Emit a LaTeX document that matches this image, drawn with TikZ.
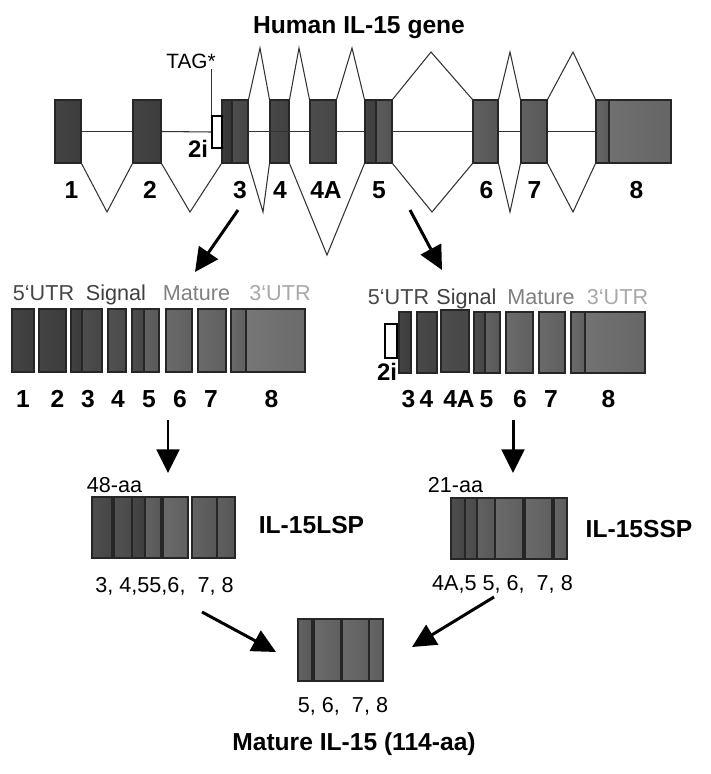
\documentclass[tikz,border=0pt]{standalone}
\usepackage{fontspec}
\setmainfont{Liberation Sans}
\usetikzlibrary{arrows.meta,fit}
\definecolor{utrdark}{gray}{0.28}
\definecolor{sigdark}{gray}{0.25}
\definecolor{matgray}{gray}{0.50}
\definecolor{utrlight}{gray}{0.66}

\begin{document}
\begin{tikzpicture}[x=0.02cm, y=-0.02cm,
    every node/.style={font=\fontsize{12.5}{14}\selectfont, inner sep=0pt},
    num/.style={font=\fontsize{14}{16}\selectfont\bfseries, anchor=base},
    lab/.style={font=\fontsize{12.3}{14}\selectfont, anchor=base},
    exon/.style={draw=black!85, line width=0.6pt, inner sep=0pt,
                 left color=white!#1!black!80!black, middle color=white!#1!black!88!white,
                 right color=white!#1!black!72!black},
    intr/.style={draw=black, fill=white, line width=0.6pt, inner sep=0pt},
    splice/.style={draw=black!80, line width=0.6pt},
    bigarr/.style={-{Triangle[length=13.5pt, width=13pt]}, line width=1.7pt}
  ]
  \useasboundingbox (0,0) rectangle (710,774);

  % ---- Gene title ----
  \node[num] (title) at (359,33) {Human IL-15 gene};

  % ---- Gene exons ----
  \foreach \nm/\xa/\xb/\sh in {e1/55/81/33, e2/133/161/33, e3a/222/232/29,
      e3b/232/248/38, e4/270/289/35, e4A/310/336/38, e5a/365/376/34,
      e5b/376/392/45, e6/473/498/47, e7/521/547/48, e8a/596/609/50, e8b/609/671/55} {
    \node[exon=\sh, fit={(\xa,100) (\xb,163)}] (\nm) {};
  }
  \node[intr, fit={(212,116) (222,148)}] (i2) {};

  % ---- Introns ----
  \draw[splice] (e1.east) -- (e2.west);
  \draw[splice] (e2.east) -- (i2.west);
  \draw[splice] (e3b.east) -- (e4A.west);
  \draw[splice] (e4A.east) -- (e5a.west);
  \draw[splice] (e5b.east) -- (e6.west);
  \draw[splice] (e6.east) -- (e7.west);
  \draw[splice] (e7.east) -- (e8a.west);

  % ---- Splicing below ----
  \foreach \a/\b/\x/\y in {e1/e2/107/212, e2/e3a/190/212, e3b/e4/263/212,
      e4/e5a/327/255, e5b/e6/432/212, e6/e7/510/212, e7/e8a/573/212} {
    \draw[splice] (\a.south east) -- (\x,\y) -- (\b.south west);
  }
  % ---- Splicing above ----
  \foreach \a/\b/\x/\y in {e3b/e4/260/48, e4/e4A/299/48, e4A/e5a/352/48,
      e5b/e6/431/52, e6/e7/510/52, e7/e8a/573/52} {
    \draw[splice] (\a.north east) -- (\x,\y) -- (\b.north west);
  }

  % ---- TAG and 2i ----
  \node[font=\fontsize{11.8}{14}\selectfont, anchor=base] (tag) at (191,68) {TAG*};
  \draw[splice] (i2.north west) -- (i2.north west |- tag.south);
  \node[num, font=\fontsize{13.6}{16}\selectfont\bfseries] (g2i) at (198,157) {2i};

  % ---- Gene exon numbers ----
  \foreach \x/\t in {71.5/1, 150/2, 240/3, 280/4, 326/4A, 379/5, 486.5/6, 534.5/7, 636.5/8} {
    \node[num] (g\t) at (\x,198) {\t};
  }

  % ---- Long transcript ----
  \node[lab, text=utrdark] (lutr5) at (43.5,300) {5‘UTR};
  \node[lab, text=sigdark] (lsig) at (116,300) {Signal};
  \node[lab, text=matgray] (lmat) at (196.5,300) {Mature};
  \node[lab, text=utrlight] (lutr3) at (280,300) {3‘UTR};
  \foreach \nm/\xa/\xb/\sh in {t1/12/34/33, t2/39/66/33, t3a/71/82/32, t3b/82/102/38,
      t4/108/126/40, t5a/132/144/38, t5b/144/159/48, t6/166/192/52, t7/198/226/52,
      t8a/231/246/52, t8b/246/305/58} {
    \node[exon=\sh, fit={(\xa,309) (\xb,372)}] (\nm) {};
  }
  \foreach \x/\t in {23/1, 57.5/2, 88/3, 118/4, 149/5, 180/6, 211/7, 271.5/8} {
    \node[num] (l\t) at (\x,407) {\t};
  }

  % ---- Short transcript ----
  \node[lab, text=utrdark] (sutr5) at (398.5,304) {5‘UTR};
  \node[lab, text=sigdark] (ssig) at (466.5,304) {Signal};
  \node[lab, text=matgray] (smat) at (541,304) {Mature};
  \node[lab, text=utrlight] (sutr3) at (617.5,304) {3‘UTR};
  \node[intr, fit={(385,324) (397,358)}] (s2i) {};
  \node[num, font=\fontsize{13.6}{16}\selectfont\bfseries] (l2i) at (387,380) {2i};
  \foreach \nm/\xa/\xb/\sh in {s3/399/411/33, s4/417/437/36, s5a/474/485/38,
      s5b/485/500/48, s6/506/533/52, s7/539/565/52, s8a/571/585/52, s8b/585/645/56} {
    \node[exon=\sh, fit={(\xa,312) (\xb,373)}] (\nm) {};
  }
  \node[exon=38, fit={(441,310) (469,372)}] (s4A) {};
  \foreach \x/\t in {408.5/3, 426.5/4, 459/4A, 486.5/5, 520/6, 551/7, 608.5/8} {
    \node[num] (r\t) at (\x,407) {\t};
  }

  % ---- Precursor proteins ----
  \node[lab] (aa48) at (114.5,492) {48-aa};
  \foreach \nm/\xa/\xb/\sh in {p1/92/112/38, p2/114/132/40, p3/132/145/34,
      p4/145/161/48, p5/163/188/52, p6/192/217/48, p7/217/235/47} {
    \node[exon=\sh, fit={(\xa,497) (\xb,558)}] (\nm) {};
  }
  \node[num] (lsp) at (311.5,533) {IL-15LSP};
  \node[lab] (lspnum) at (164.5,592) {3, 4,55,6,\ \ 7, 8};

  \node[lab] (aa21) at (455.5,492) {21-aa};
  \foreach \nm/\xa/\xb/\sh in {q1/451/465/38, q2/465/477/40, q3/477/495/48,
      q4/495/523/52, q5/525/552/52, q6/554/567/50} {
    \node[exon=\sh, fit={(\xa,498) (\xb,559)}] (\nm) {};
  }
  \node[num] (ssp) at (639,537) {IL-15SSP};
  \node[lab] (sspnum) at (502.5,590) {4A,5 5, 6,\ \ 7, 8};

  % ---- Mature protein ----
  \foreach \nm/\xa/\xb/\sh in {m1/298/312/48, m2/314/341/52, m3/342/369/52, m4/369/383/50} {
    \node[exon=\sh, fit={(\xa,619) (\xb,681)}] (\nm) {};
  }
  \node[lab] (matnum) at (343,712) {5, 6,\ \ 7, 8};
  \node[num] (mature) at (354,750) {Mature IL-15 (114-aa)};

  % ---- Arrows ----
  \coordinate (a1s) at (238,210); \coordinate (a1e) at (195,272);
  \coordinate (a2s) at (410,210); \coordinate (a2e) at (442,270);
  \coordinate (a3s) at (168,420); \coordinate (a3e) at (168,473);
  \coordinate (a4s) at (513,420); \coordinate (a4e) at (513,473);
  \coordinate (a5s) at (202,612); \coordinate (a5e) at (276,652);
  \coordinate (a6s) at (494,597); \coordinate (a6e) at (412,647);
  \foreach \i in {1,...,6} {
    \draw[bigarr] (a\i s) -- (a\i e);
  }
\end{tikzpicture}
\end{document}
